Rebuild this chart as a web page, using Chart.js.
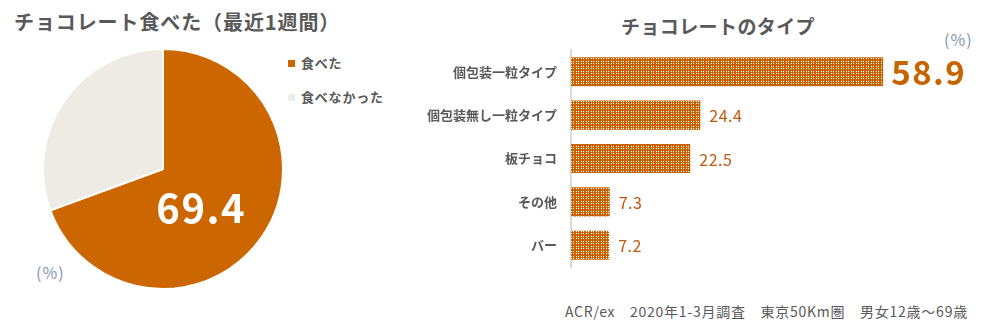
<!DOCTYPE html>
<html>
<head>
<meta charset="utf-8">
<script src="https://cdn.jsdelivr.net/npm/chart.js@4.4.0/dist/chart.umd.min.js"></script>
<style>
  body { margin: 0; width: 986px; height: 329px; background: #fff; position: relative; overflow: hidden;
         font-family: "Noto Sans CJK JP", "Noto Sans", sans-serif; color: #595959; }
  .abs { position: absolute; white-space: nowrap; }
  .title { font-weight: bold; font-size: 20px; letter-spacing: 0.9px; }
  .legend div { height: 34px; font-weight: bold; font-size: 13px; line-height: 20px; letter-spacing: 0.8px; }
  .legend span { display: inline-block; width: 7px; height: 7px; margin-right: 6px; vertical-align: 1px; }
</style>
</head>
<body>
<div class="abs title" style="left:14px; top:7px;">チョコレート食べた（最近1週間）</div>
<div class="abs legend" style="left:288px; top:53px;">
  <div><span style="background:#cc6600"></span>食べた</div>
  <div><span style="background:#edebe3"></span>食べなかった</div>
</div>
<div class="abs" style="left:36px; top:260px; font-size:16px; color:#8496b0; letter-spacing:1px;">(%)</div>

<div class="abs title" style="left:621px; top:12px; font-size:19px; letter-spacing:0.4px;">チョコレートのタイプ</div>
<div class="abs" style="left:944px; top:27px; font-size:16px; color:#8496b0; letter-spacing:1px;">(%)</div>
<div class="abs" style="left:565px; top:301px; font-size:14px; letter-spacing:0.75px;">ACR/ex　2020年1-3月調査　東京50Km圏　男女12歳～69歳</div>

<div class="abs" style="left:42px; top:48px; width:242px; height:242px;"><canvas id="pie"></canvas></div>
<div class="abs" style="left:400px; top:40px; width:586px; height:240px;"><canvas id="bar"></canvas></div>

<script>
// 食べた / 食べなかった
const pieLabels = ['食べた', '食べなかった'];
const pieValues = [69.4, 30.6];
const pieColors = ['#cc6600', '#edebe3'];

// チョコレートのタイプ
const barLabels = ['個包装一粒タイプ', '個包装無し一粒タイプ', '板チョコ', 'その他', 'バー'];
const barValues = [58.9, 24.4, 22.5, 7.3, 7.2];

const FONT = '"Noto Sans CJK JP", "Noto Sans", sans-serif';

// 円グラフ
const pieLabelPlugin = {
    id: 'pieLabel',
    afterDatasetsDraw(chart) {
        const arc = chart.getDatasetMeta(0).data[0];
        const c = chart.ctx;
        c.save();
        c.fillStyle = '#fff';
        c.font = 'bold 40px ' + FONT;
        c.letterSpacing = '1.5px';
        c.textAlign = 'center';
        c.textBaseline = 'middle';
        const p = arc.tooltipPosition();
        c.fillText(pieValues[0].toFixed(1), p.x - 11, p.y + 4);
        c.restore();
    }
};

new Chart(document.getElementById('pie'), {
    type: 'pie',
    data: {
        labels: pieLabels,
        datasets: [{
            data: pieValues,
            backgroundColor: pieColors,
            borderColor: '#fff',
            borderWidth: 2
        }]
    },
    options: {
        responsive: true,
        maintainAspectRatio: false,
        animation: false,
        plugins: { legend: { display: false }, tooltip: { enabled: false } }
    },
    plugins: [pieLabelPlugin]
});

// 棒グラフの水玉パターン
const makePattern = () => {
    const t = document.createElement('canvas');
    t.width = 5; t.height = 5;
    const g = t.getContext('2d');
    g.fillStyle = '#c86400';
    g.fillRect(0, 0, 5, 5);
    g.fillStyle = '#ffffff';
    [1, 3].forEach(x => [1, 3].forEach(y => g.fillRect(x, y, 1, 1)));
    return document.getElementById('bar').getContext('2d').createPattern(t, 'repeat');
};

const barLabelPlugin = {
    id: 'barLabel',
    afterDatasetsDraw(chart) {
        const c = chart.ctx;
        c.save();
        c.textBaseline = 'middle';
        chart.getDatasetMeta(0).data.forEach((bar, i) => {
            if (i === 0) {
                c.font = 'bold 33px ' + FONT;
                c.letterSpacing = '1.5px';
                c.fillStyle = '#c86400';
                c.fillText(barValues[i].toFixed(1), bar.x + 8, bar.y + 1);
            } else {
                c.font = '16px ' + FONT;
                c.letterSpacing = '0.5px';
                c.fillStyle = '#c0580f';
                c.fillText(barValues[i].toFixed(1), bar.x + 9, bar.y + 1);
            }
        });
        c.restore();
    }
};

new Chart(document.getElementById('bar'), {
    type: 'bar',
    data: {
        labels: barLabels,
        datasets: [{
            data: barValues,
            backgroundColor: makePattern(),
            borderWidth: 0,
            barPercentage: 0.67,
            categoryPercentage: 1
        }]
    },
    options: {
        indexAxis: 'y',
        responsive: true,
        maintainAspectRatio: false,
        animation: false,
        layout: { padding: { top: 10, bottom: 13, right: 44, left: 0 } },
        plugins: { legend: { display: false }, tooltip: { enabled: false } },
        scales: {
            x: { display: false, min: 0, max: 70 },
            y: {
                afterFit(scale) {
                    scale.width = 171;
                    scale.paddingTop = 0;
                    scale.paddingBottom = 0;
                },
                grid: { display: false, drawTicks: false },
                border: { display: true, color: '#d9d9d9', width: 2 },
                ticks: {
                    padding: 14,
                    color: '#595959',
                    font: { family: FONT, size: 13, weight: 'bold' }
                }
            }
        }
    },
    plugins: [barLabelPlugin]
});
</script>
</body>
</html>
